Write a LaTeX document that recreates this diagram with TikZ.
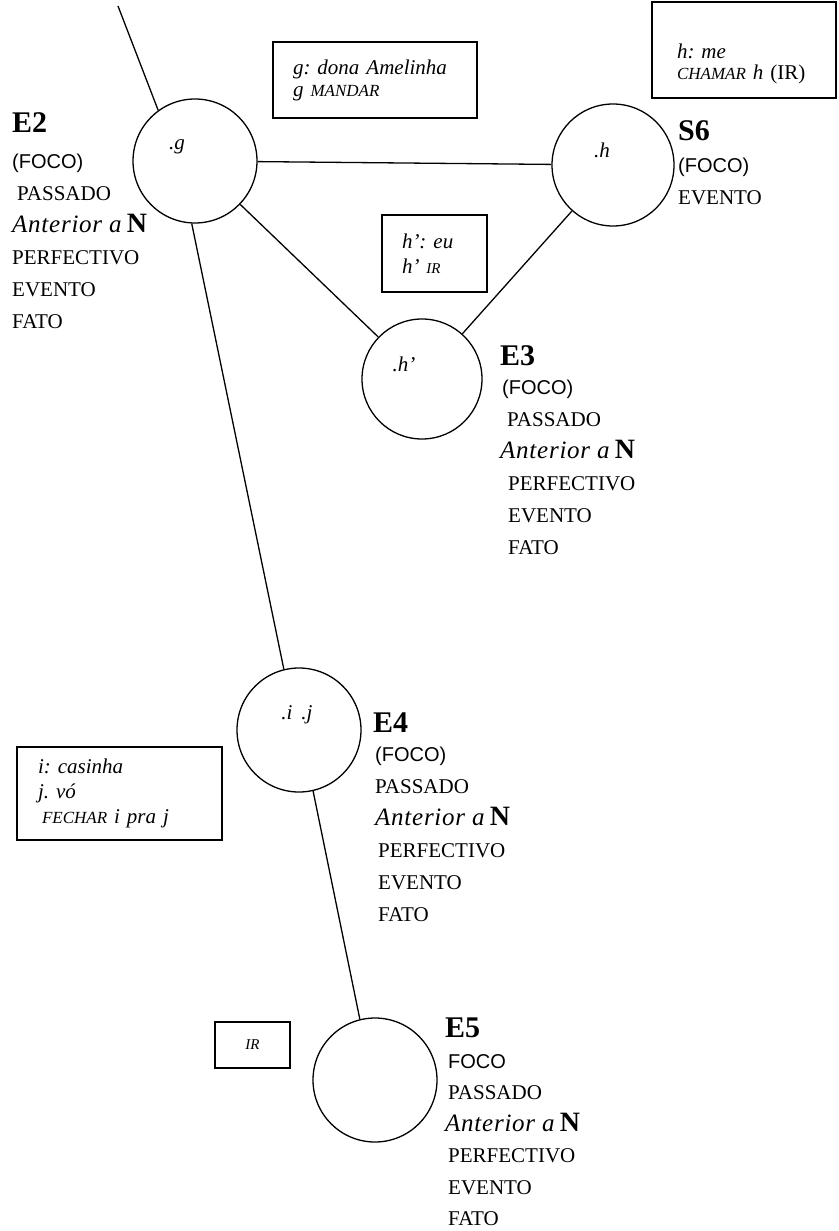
\documentclass[tikz,border=0pt]{standalone}
\usepackage{fontspec}
\setmainfont{Liberation Serif}
\newfontfamily\focofont{Liberation Sans}
\frenchspacing
\newcommand{\Elab}[1]{{\fontsize{30}{30}\selectfont\bfseries #1}}
\newcommand{\Ant}{{\itshape\fontsize{25}{32}\selectfont\addfontfeature{LetterSpace=3}Anterior a} {\fontsize{28}{32}\selectfont\bfseries N}}
\newcommand{\Foco}[1]{{\focofont\fontsize{20}{32}\selectfont #1}}
\newcommand{\smc}[1]{{\fontsize{17}{17}\selectfont #1}}
\begin{document}
\begin{tikzpicture}[x=1pt,y=-1pt,
  circ/.style={draw, circle, minimum size=124pt, inner sep=0pt, line width=1.3pt},
  link/.style={line width=1.3pt},
  boxn/.style={draw, line width=1.3pt, inner ysep=0pt, align=left,
    font=\itshape\fontsize{21}{22}\selectfont},
  blk/.style={align=left, font=\fontsize{21}{32}\selectfont, inner sep=0pt, anchor=north west},
  lab/.style={font=\itshape\fontsize{21}{21}\selectfont, inner sep=0pt}
]
\useasboundingbox (0,0) rectangle (838,1231);

% circles
\node[circ] (g) at (195,161) {};
\node[circ, minimum size=122pt] (h) at (613,165) {};
\node[circ, minimum size=120pt] (hp) at (422,379) {};
\node[circ] (ij) at (299,730) {};
\node[circ] (e5) at (375,1080) {};

% labels inside circles
\node[lab] (gl) at (177,147) {.g};
\node[lab] (hl) at (602,150) {.h};
\node[lab] (hpl) at (404,364) {.h’};
\node[lab] (ijl) at (297,715) {.i\hspace{9pt}.j};

% connectors
\coordinate (top) at (118,6);
\draw[link] (top) -- (g.126);
\draw[link] (g) -- (h);
\draw[link] (g) -- (hp);
\draw[link] (h) -- (hp);
\draw[link] (g.267) -- (ij.104);
\draw[link] (ij.283) -- (e5.104);

% boxes
\node[boxn, inner xsep=20pt, text width=164pt, minimum height=76pt] (gbox) at (375,80)
  {g: dona Amelinha\\ g \smc{MANDAR}};
\node[boxn, inner xsep=25pt, text width=134pt, minimum height=96pt, font=\itshape\fontsize{21}{21}\selectfont] (hbox) at (744,50)
  {\rule{0pt}{42pt}h: me\\ \smc{CHAMAR} h {\upshape (IR)}};
\node[boxn, inner xsep=20pt, text width=65pt, minimum height=77pt,
  font=\itshape\fontsize{21}{25}\selectfont] (hpbox) at (434.5,253.5)
  {h’: eu\\ h’ {\fontsize{15}{15}\selectfont IR}};
\node[boxn, inner xsep=21pt, text width=163pt, minimum height=93pt,
  font=\itshape\fontsize{21}{25}\selectfont] (ijbox) at (119.5,793.5)
  {i: casinha\\ j. vó\\ \hspace{4pt}\smc{FECHAR} i pra j};
\node[boxn, inner xsep=0pt, minimum width=75pt, minimum height=46pt,
  font=\itshape\fontsize{15}{15}\selectfont] (irbox) at (252.5,1045)
  {IR};

% state blocks
\node[blk] (e2t) at (12,112) {\Elab{E2}\\[4pt] \Foco{(FOCO)}\\ \hspace{5pt}PASSADO\\ \Ant\\ PERFECTIVO\\ EVENTO\\ FATO};
\node[blk] (s6t) at (678,120) {\Elab{S6}\\ \Foco{(FOCO)}\\ EVENTO};
\node[blk] (e3t) at (500,345) {\Elab{E3}\\[-3pt] \hspace{2pt}\Foco{(FOCO)}\\ \hspace{7pt}PASSADO\\ \Ant\\ \hspace{8pt}PERFECTIVO\\ \hspace{8pt}EVENTO\\ \hspace{8pt}FATO};
\node[blk] (e4t) at (373,713) {\Elab{E4}\\[-3pt] \hspace{2pt}\Foco{(FOCO)}\\ \hspace{2pt}PASSADO\\ \hspace{2pt}\Ant\\ \hspace{5pt}PERFECTIVO\\ \hspace{5pt}EVENTO\\ \hspace{5pt}FATO};
\node[blk, font=\fontsize{21}{31.5}\selectfont] (e5t) at (445,1018) {\Elab{E5}\\[-1pt] \hspace{3pt}\Foco{FOCO}\\ \hspace{3pt}PASSADO\\ \Ant\\ \hspace{3pt}PERFECTIVO\\ \hspace{3pt}EVENTO\\ \hspace{3pt}FATO};
\end{tikzpicture}
\end{document}
